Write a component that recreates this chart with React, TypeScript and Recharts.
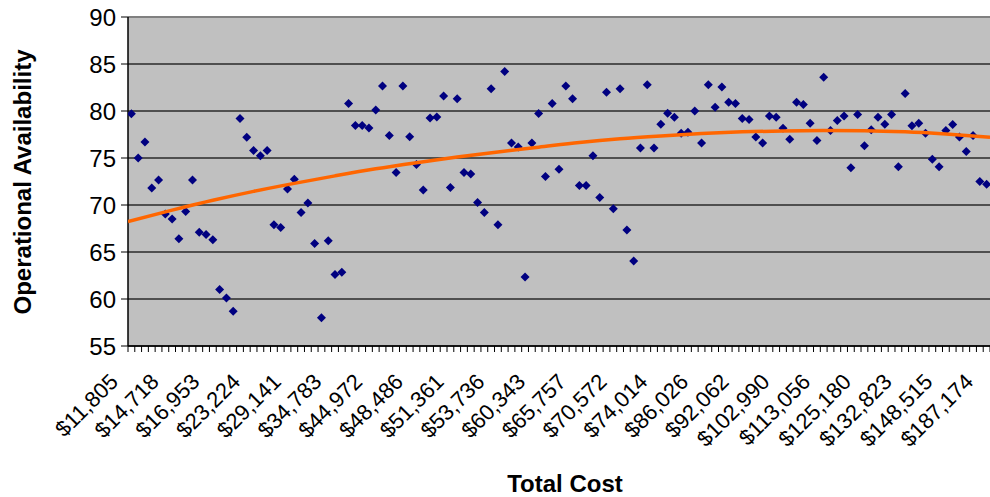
import { ScatterChart, Scatter, XAxis, YAxis, CartesianGrid, ReferenceLine } from "recharts";

// Operational availability per system, ordered by total cost (127 points)
const availability = [
  79.7, 75.0, 76.7, 71.8, 72.65, 69.05, 68.5, 66.4, 69.3, 72.65,
  67.1, 66.85, 66.3, 61.0, 60.1, 58.7, 79.2, 77.2, 75.8, 75.25,
  75.8, 67.9, 67.6, 71.7, 72.75, 69.2, 70.2, 65.9, 58.0, 66.2,
  62.6, 62.85, 80.8, 78.45, 78.45, 78.2, 80.1, 82.65, 77.4, 73.45,
  82.65, 77.25, 74.3, 71.6, 79.25, 79.35, 81.6, 71.87, 81.3, 73.45,
  73.3, 70.27, 69.2, 82.37, 67.9, 84.2, 76.6, 76.17, 62.33, 76.6,
  79.73, 73.04, 80.8, 73.8, 82.65, 81.3, 72.08, 72.08, 75.25, 70.8,
  82.0, 69.6, 82.37, 67.35, 64.04, 76.07, 82.8, 76.07, 78.6, 79.77,
  79.34, 77.63, 77.74, 80.0, 76.6, 82.8, 80.4, 82.54, 80.94, 80.8,
  79.2, 79.1, 77.24, 76.6, 79.48, 79.34, 78.17, 77.0, 80.94, 80.7,
  78.7, 76.85, 83.58, 77.92, 78.99, 79.48, 73.97, 79.63, 76.3, 78.0,
  79.34, 78.6, 79.63, 74.07, 81.87, 78.42, 78.7, 77.63, 74.86, 74.07,
  77.92, 78.56, 77.24, 75.68, 77.4, 72.5, 72.2,
];

// every sixth category is labelled
const costLabels = [
  "$11,805", "$14,718", "$16,953", "$23,224", "$29,141", "$34,783",
  "$44,972", "$48,486", "$51,361", "$53,736", "$60,343", "$65,757",
  "$70,572", "$74,014", "$86,026", "$92,062", "$102,990", "$113,056",
  "$125,180", "$132,823", "$148,515", "$187,174",
];

// polynomial trendline
const trendIdx = [-0.5, 6, 12, 18, 24, 30, 36, 42, 48, 54, 60, 66, 72, 78, 84, 90, 96, 102, 108, 114, 120, 126.5];
const trendVal = [68.25, 69.45, 70.5, 71.45, 72.3, 73.1, 73.85, 74.5, 75.1, 75.65, 76.15, 76.65, 77.05, 77.35, 77.6, 77.78, 77.88, 77.92, 77.9, 77.78, 77.55, 77.22];

const yTicks = [55, 60, 65, 70, 75, 80, 85, 90];

const FONT = "'Liberation Sans', Arial, sans-serif";

const points = availability.map((v, i) => ({ x: i, y: v }));
const trend = trendIdx.map((x, i) => ({ x, y: trendVal[i] }));

const n = availability.length;
const labelTicks = costLabels.map((_, i) => i * 6);
const minorTicks = Array.from({ length: n + 1 }, (_, k) => k - 0.5);
const xTicks = [...minorTicks, ...labelTicks].sort((a, b) => a - b);

const Diamond = (props: any) => {
  const { cx, cy } = props;
  const r = 4.5;
  return <path d={`M${cx},${cy - r}L${cx + r},${cy}L${cx},${cy + r}L${cx - r},${cy}Z`} fill="#000080" />;
};

const NoShape = () => <g />;

const CostTick = (props: any) => {
  const { x, y, payload } = props;
  const v = payload.value;
  if (!Number.isInteger(v)) {
    return <line x1={x} x2={x} y1={y} y2={y + 6} stroke="#000" strokeWidth={1} />;
  }
  const tx = x - 12;
  const ty = y + 37;
  return (
    <text x={tx} y={ty} textAnchor="end" fontSize={22} fontFamily={FONT} fill="#000"
      transform={`rotate(-45, ${tx}, ${ty})`}>
      {costLabels[v / 6]}
    </text>
  );
};

const App = () => {
  return (
    <div style={{ position: "absolute", left: 0, top: 0, background: "#fff" }}>
      <ScatterChart width={990} height={497} margin={{ top: 17, right: 0, bottom: 0, left: 0 }} style={{ fontFamily: FONT }}>
        <CartesianGrid vertical={false} fill="#C0C0C0" stroke="#2a2a2a" strokeWidth={1.5} fillOpacity={1} />
        <XAxis type="number" dataKey="x" domain={[-0.5, n - 0.5]} ticks={xTicks} interval={0}
          allowDataOverflow tickLine={false} tickSize={0} tickMargin={0} height={151}
          axisLine={{ stroke: "#000", strokeWidth: 1.5 }} tick={<CostTick />}
          label={{
            content: () => (
              <text x={565} y={492} textAnchor="middle" fontSize={24} fontWeight="bold" fontFamily={FONT} fill="#000">
                Total Cost
              </text>
            ),
          }} />
        <YAxis type="number" dataKey="y" domain={[55, 90]} ticks={yTicks} interval={0} width={128}
          allowDataOverflow tickSize={7} tickMargin={5}
          axisLine={{ stroke: "#000", strokeWidth: 1.5 }} tickLine={{ stroke: "#000" }}
          tick={{ fontSize: 24, fill: "#000", fontFamily: FONT }}
          label={{
            content: () => (
              <text x={31} y={182} textAnchor="middle" fontSize={24} fontWeight="bold" fontFamily={FONT} fill="#000"
                transform="rotate(-90, 31, 182)">
                Operational Availability
              </text>
            ),
          }} />
        <ReferenceLine y={90} stroke="#808080" strokeWidth={2} />
        <Scatter data={points} shape={<Diamond />} isAnimationActive={false} />
        <Scatter data={trend} shape={<NoShape />} line={{ stroke: "#FF6600", strokeWidth: 3.5 }}
          lineJointType="monotoneX" isAnimationActive={false} />
      </ScatterChart>
    </div>
  );
};

export default App;
